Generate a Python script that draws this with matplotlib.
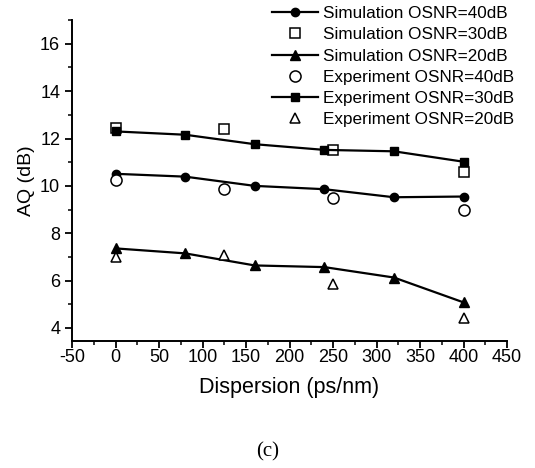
import matplotlib
matplotlib.use("Agg")
import matplotlib.pyplot as plt
from matplotlib.ticker import MultipleLocator

plt.rcParams["font.family"] = ["Liberation Sans", "DejaVu Sans"]
plt.rcParams["axes.unicode_minus"] = False

# data
x_sim = [0, 80, 160, 240, 320, 400]
x_exp = [0, 125, 250, 400]

sim_40 = [10.51, 10.39, 10.0, 9.86, 9.52, 9.55]
sim_30_open = [12.46, 12.39, 11.52, 10.58]      # drawn with open squares
sim_20 = [7.36, 7.15, 6.64, 6.57, 6.13, 5.08]
exp_40 = [10.25, 9.86, 9.5, 8.97]
exp_30_filled = [12.3, 12.16, 11.76, 11.52, 11.46, 11.02]  # filled squares + line
exp_20 = [6.99, 7.07, 5.85, 4.43]

fig = plt.figure(figsize=(5.35, 4.68), dpi=100)
ax = fig.add_axes([0.1346, 0.2714, 0.8131, 0.6856])

ax.plot(x_sim, sim_40, "-o", color="black", lw=1.6, ms=6,
        label="Simulation OSNR=40dB")
ax.plot(x_exp, sim_30_open, "s", color="black", mfc="white", mew=1.1, ms=7.5,
        ls="none", label="Simulation OSNR=30dB")
ax.plot(x_sim, sim_20, "-^", color="black", lw=1.6, ms=6.5,
        label="Simulation OSNR=20dB")
ax.plot(x_exp, exp_40, "o", color="black", mfc="white", mew=1.1, ms=8,
        ls="none", label="Experiment OSNR=40dB")
ax.plot(x_sim, exp_30_filled, "-s", color="black", lw=1.6, ms=6,
        label="Experiment OSNR=30dB")
ax.plot(x_exp, exp_20, "^", color="black", mfc="white", mew=1.1, ms=7,
        ls="none", label="Experiment OSNR=20dB")

ax.set_xlim(-50, 450)
ax.set_ylim(3.45, 17)
ax.xaxis.set_major_locator(MultipleLocator(50))
ax.xaxis.set_minor_locator(MultipleLocator(25))
ax.set_yticks([4, 6, 8, 10, 12, 14, 16])
ax.yaxis.set_minor_locator(MultipleLocator(1))
ax.tick_params(which="major", direction="out", length=5, width=1.3, labelsize=13)
ax.tick_params(axis="x", which="major", pad=0.5)
ax.tick_params(which="minor", direction="out", length=3, width=1.1)

for s in ("top", "right"):
    ax.spines[s].set_visible(False)
for s in ("left", "bottom"):
    ax.spines[s].set_linewidth(1.4)

ax.set_xlabel("Dispersion (ps/nm)", fontsize=15.5, labelpad=8)
ax.set_ylabel("AQ (dB)", fontsize=14, labelpad=4)

leg = ax.legend(loc="upper right", bbox_to_anchor=(1.04, 1.075), frameon=False,
                fontsize=12.3, handlelength=2.7, handletextpad=0.3,
                labelspacing=0.36, borderaxespad=0.2)

fig.text(0.5, 0.034, "(c)", ha="center", va="center", fontsize=15,
         family=["Liberation Serif", "DejaVu Serif"])

fig.savefig("out.png", dpi=100)
